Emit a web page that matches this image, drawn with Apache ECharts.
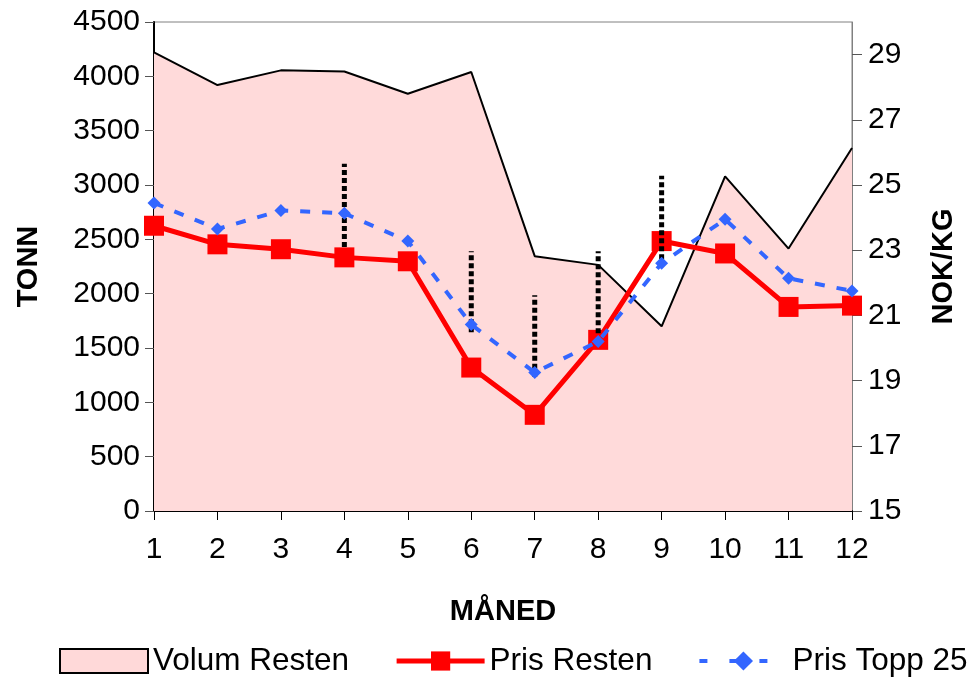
<!DOCTYPE html>
<html>
<head>
<meta charset="utf-8">
<script src="https://cdn.jsdelivr.net/npm/echarts@6/dist/echarts.min.js"></script>
<style>
  html, body { margin: 0; padding: 0; background: #fff; }
  #chart { width: 978px; height: 677px; }
</style>
</head>
<body>
<div id="chart"></div>
<script>
// måneder
const months = ['1', '2', '3', '4', '5', '6', '7', '8', '9', '10', '11', '12']
// volum (tonn), venstre akse
const volumResten = [4220, 3920, 4055, 4045, 3840, 4040, 2345, 2265, 1700, 3080, 2415, 3340]
// priser (NOK/KG), høyre akse
const prisResten = [23.75, 23.18, 23.03, 22.78, 22.66, 19.4, 17.95, 20.25, 23.28, 22.9, 21.26, 21.3]
const prisTopp25 = [24.45, 23.65, 24.22, 24.13, 23.28, 20.72, 19.25, 20.2, 22.6, 23.95, 22.14, 21.75]
// prikkede linjer: [månedindeks, lav, høy]
const spenn = [
  [3, 23.1, 25.65],
  [5, 20.48, 22.97],
  [6, 19.12, 21.62],
  [7, 20.45, 22.97],
  [8, 22.72, 25.28],
]
const rightTicks = [15, 17, 19, 21, 23, 25, 27, 29]

const FONT = 'Liberation Sans, Arial, sans-serif'
const chart = echarts.init(document.getElementById('chart'))

chart.setOption({
  animation: false,
  textStyle: { fontFamily: FONT },
  grid: {
    left: 154,
    right: 126,
    top: 22,
    bottom: 166,
    show: true,
    borderColor: '#808080',
    borderWidth: 1,
  },
  legend: {
    left: 54,
    bottom: -5,
    itemWidth: 88,
    itemHeight: 24,
    itemGap: 45,
    textStyle: { fontSize: 31.5, color: '#000', fontFamily: FONT },
    data: [
      {
        name: 'Volum Resten',
        icon: 'rect',
        itemStyle: { color: '#ffd9d9', borderColor: '#000', borderWidth: 2 },
      },
      { name: 'Pris Resten', lineStyle: { width: 5 } },
      { name: 'Pris Topp 25', lineStyle: { width: 4, type: [8, 22] } },
    ],
  },
  xAxis: {
    type: 'category',
    data: months,
    boundaryGap: false,
    name: 'MÅNED',
    nameLocation: 'middle',
    nameGap: 86,
    nameTextStyle: { fontSize: 29, fontWeight: 'bold', color: '#000' },
    axisLine: { lineStyle: { color: '#000', width: 2 } },
    axisTick: { length: 9, lineStyle: { color: '#000', width: 1 } },
    axisLabel: { fontSize: 30, color: '#000', margin: 24 },
  },
  yAxis: [
    {
      type: 'value',
      min: 0,
      max: 4500,
      interval: 500,
      name: 'TONN',
      nameLocation: 'middle',
      nameGap: 111,
      nameTextStyle: { fontSize: 29, fontWeight: 'bold', color: '#000' },
      splitLine: { show: false },
      axisLine: { show: true, lineStyle: { color: '#000', width: 2 } },
      axisTick: { show: true, length: 9, lineStyle: { color: '#555' } },
      axisLabel: { fontSize: 30, color: '#000', margin: 14, formatter: (v) => String(v) },
    },
    {
      type: 'value',
      min: 15,
      max: 30,
      position: 'right',
      name: 'NOK/KG',
      nameLocation: 'middle',
      nameGap: 77,
      nameTextStyle: { fontSize: 29, fontWeight: 'bold', color: '#000' },
      splitLine: { show: false },
      axisLine: { show: true, lineStyle: { color: '#808080', width: 1 } },
      axisTick: { show: true, length: 10, customValues: rightTicks, lineStyle: { color: '#555' } },
      axisLabel: { fontSize: 30, color: '#000', margin: 16, customValues: rightTicks },
    },
  ],
  series: [
    {
      name: 'Volum Resten',
      type: 'line',
      yAxisIndex: 0,
      data: volumResten,
      symbol: 'none',
      lineStyle: { color: '#000', width: 2 },
      itemStyle: { color: '#ffd9d9', borderColor: '#000' },
      areaStyle: { color: '#ffdada', opacity: 1 },
      z: 1,
    },
    {
      name: 'Pris Resten',
      type: 'line',
      yAxisIndex: 1,
      data: prisResten,
      symbol: 'rect',
      symbolSize: 20,
      lineStyle: { color: '#ff0000', width: 5 },
      itemStyle: { color: '#ff0000' },
      z: 2,
    },
    {
      name: 'spenn',
      type: 'custom',
      yAxisIndex: 1,
      data: spenn,
      renderItem: function (params, api) {
        const p1 = api.coord([api.value(0), api.value(1)])
        const p2 = api.coord([api.value(0), api.value(2)])
        return {
          type: 'line',
          shape: { x1: p1[0], y1: p1[1], x2: p2[0], y2: p2[1] },
          style: { stroke: '#000', lineWidth: 5, lineDash: [5, 3], lineCap: 'butt' },
        }
      },
      silent: true,
      z: 3,
    },
    {
      name: 'Pris Topp 25',
      type: 'line',
      yAxisIndex: 1,
      data: prisTopp25,
      symbol: 'diamond',
      symbolSize: 13,
      lineStyle: { color: '#3366ff', width: 4, type: [10, 12] },
      itemStyle: { color: '#3366ff' },
      z: 4,
    },
  ],
})
</script>
</body>
</html>
